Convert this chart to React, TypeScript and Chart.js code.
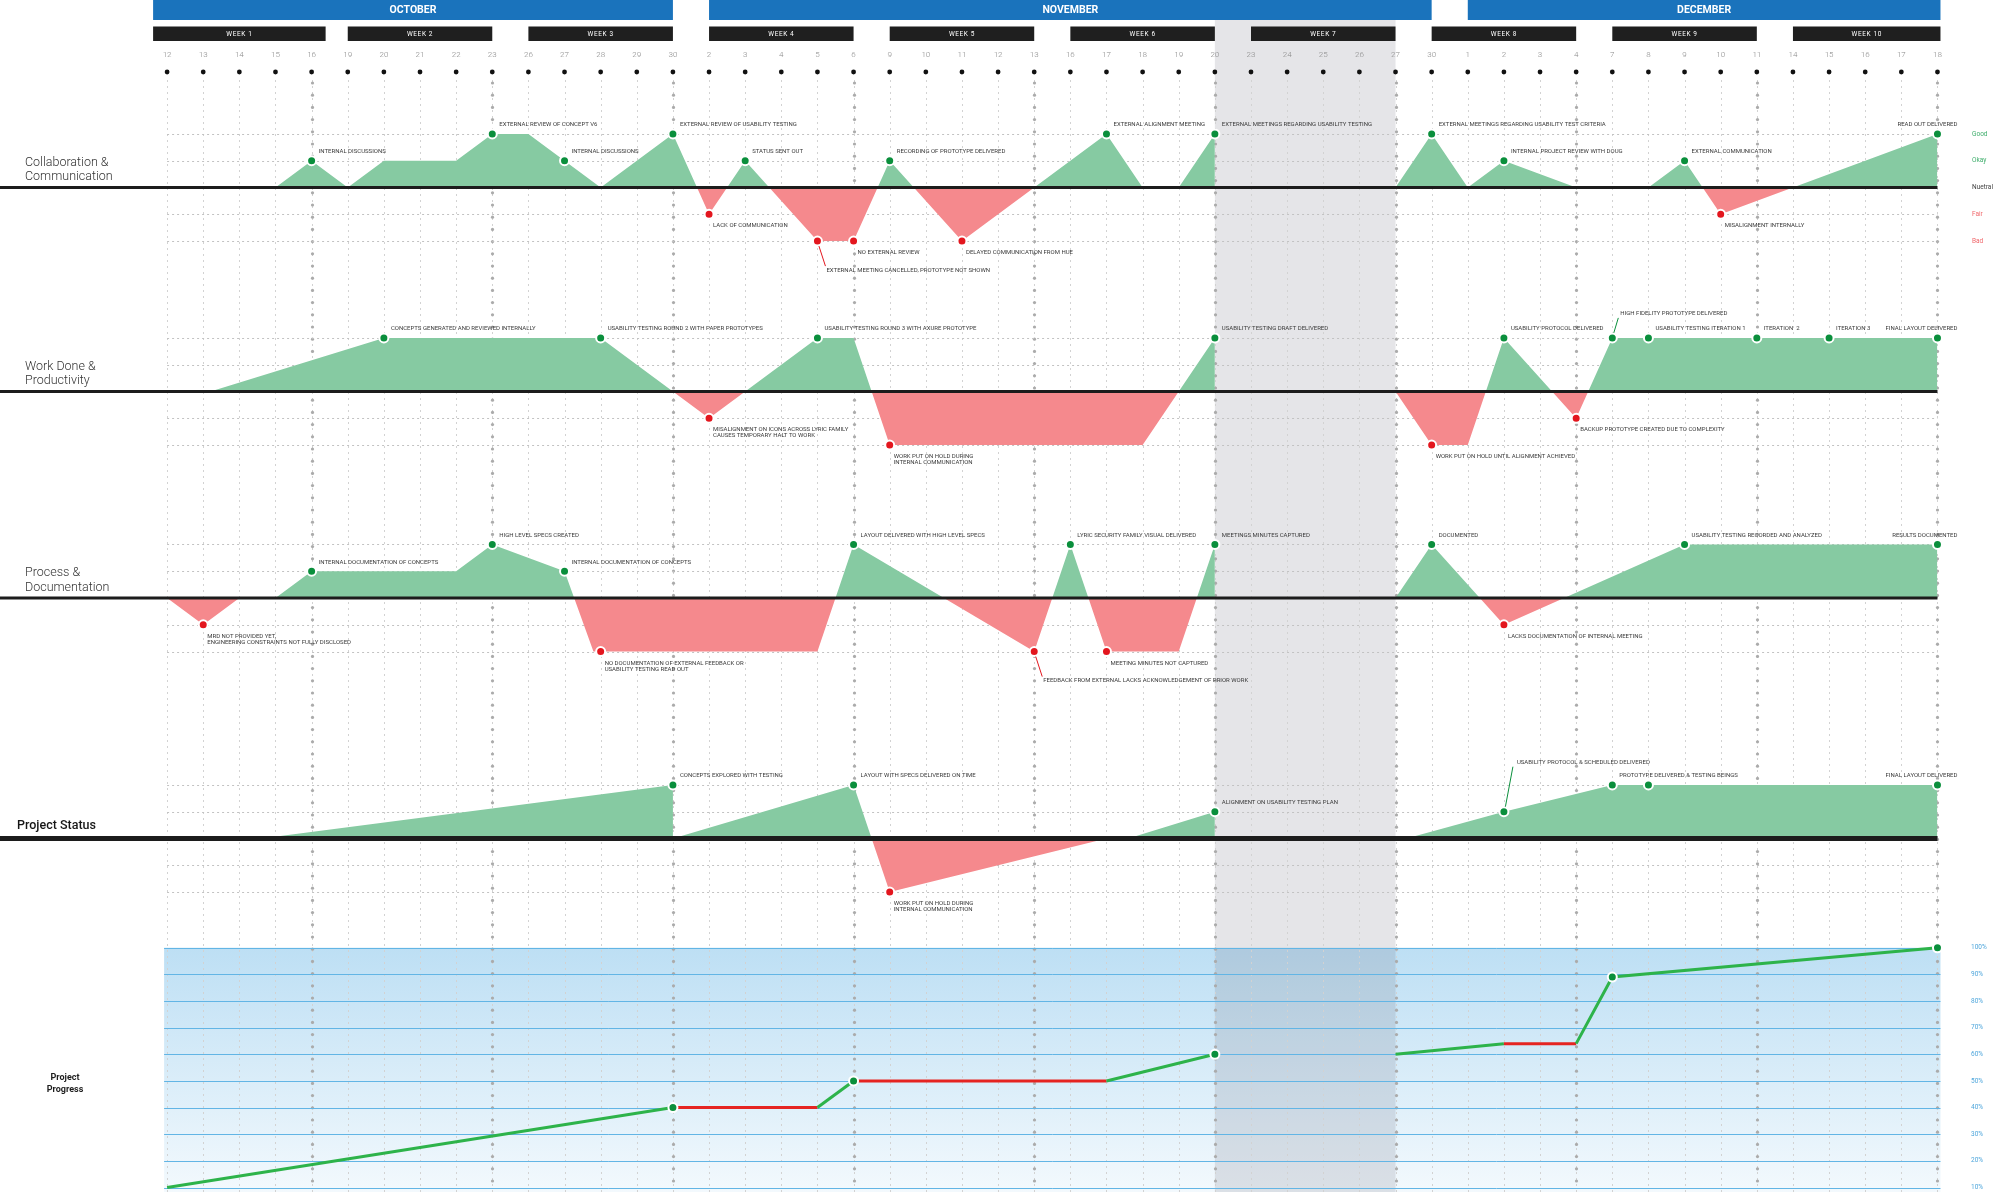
import React, { useEffect, useRef } from "react";
import { Chart, registerables } from "chart.js";

Chart.register(...registerables);

// ---------------- DATA ----------------
const dayLabels = [
  "12", "13", "14", "15", "16", "19", "20", "21", "22", "23", "26", "27", "28", "29", "30",
  "2", "3", "4", "5", "6", "9", "10", "11", "12", "13", "16", "17", "18", "19", "20",
  "23", "24", "25", "26", "27", "30", "1", "2", "3", "4", "7", "8", "9", "10", "11",
  "14", "15", "16", "17", "18",
];
const monthNames = ["OCTOBER", "NOVEMBER", "DECEMBER"];
const monthStartDay = [0, 15, 36];
const monthEndDay = [14, 35, 49];
const weekNames = ["WEEK 1", "WEEK 2", "WEEK 3", "WEEK 4", "WEEK 5", "WEEK 6", "WEEK 7", "WEEK 8", "WEEK 9", "WEEK 10"];
const weekStartDay = [0, 5, 10, 15, 20, 25, 30, 35, 40, 45];
const weekEndDay = [4, 9, 14, 19, 24, 29, 34, 39, 44, 49];
const offWeekFromDay = 29;
const offWeekToDay = 34;

const levelNames = ["Good", "Okay", "Nuetral", "Fair", "Bad"];
const levelValues = [2, 1, 0, -1, -2];

const rowTitles = [
  ["Collaboration &", "Communication"],
  ["Work Done &", "Productivity"],
  ["Process &", "Documentation"],
  ["Project Status"],
];

// Collaboration & Communication
const collabX = [0, 3, 4, 5, 6, 8, 9, 10, 11, 12, 14, 15, 16, 18, 19, 20, 22, 24, 26, 27, 28, 29, 31.5, 34, 35, 36, 37, 39, 41, 42, 43, 49];
const collabY = [0, 0, 1, 0, 1, 1, 2, 2, 1, 0, 2, -1, 1, -2, -2, 1, -2, 0, 2, 0, 0, 2, null, 0, 2, 0, 1, 0, 0, 1, -1, 2];
const collabEventX = [4, 9, 11, 14, 15, 16, 18, 19, 20, 22, 26, 29, 35, 37, 42, 43, 49];
const collabEventY = [1, 2, 1, 2, -1, 1, -2, -2, 1, -2, 2, 2, 2, 1, 1, -1, 2];
const collabEventText = [
  "INTERNAL DISCUSSIONS",
  "EXTERNAL REVIEW OF CONCEPT V6",
  "INTERNAL DISCUSSIONS",
  "EXTERNAL REVIEW OF USABILITY TESTING",
  "LACK OF COMMUNICATION",
  "STATUS SENT OUT",
  "EXTERNAL MEETING CANCELLED, PROTOTYPE NOT SHOWN",
  "NO EXTERNAL REVIEW",
  "RECORDING OF PROTOTYPE DELIVERED",
  "DELAYED COMMUNICATION FROM HUE",
  "EXTERNAL ALIGNMENT MEETING",
  "EXTERNAL MEETINGS REGARDING USABILITY TESTING",
  "EXTERNAL MEETINGS REGARDING USABILITY TEST CRITERIA",
  "INTERNAL PROJECT REVIEW WITH DOUG",
  "EXTERNAL COMMUNICATION",
  "MISALIGNMENT INTERNALLY",
  "READ OUT DELIVERED",
];
const collabEventPlace = ["auto", "auto", "auto", "auto", "auto", "auto", "leaderDown", "auto", "auto", "auto", "auto", "auto", "auto", "auto", "auto", "auto", "end"];

// Work Done & Productivity
const workX = [1.2, 6, 12, 15, 18, 19, 20, 27, 29, 31.5, 34, 35, 36, 37, 39, 40, 49];
const workY = [0, 2, 2, -1, 2, 2, -2, -2, 2, null, 0, -2, -2, 2, -1, 2, 2];
const workEventX = [6, 12, 15, 18, 20, 29, 35, 37, 39, 40, 41, 44, 46, 49];
const workEventY = [2, 2, -1, 2, -2, 2, -2, 2, -1, 2, 2, 2, 2, 2];
const workEventText = [
  "CONCEPTS GENERATED AND REVIEWED INTERNALLY",
  "USABILITY TESTING ROUND 2 WITH PAPER PROTOTYPES",
  "MISALIGNMENT ON ICONS ACROSS LYRIC FAMILY\nCAUSES TEMPORARY HALT TO WORK",
  "USABILITY TESTING ROUND 3 WITH AXURE PROTOTYPE",
  "WORK PUT ON HOLD DURING\nINTERNAL COMMUNICATION",
  "USABILITY TESTING DRAFT DELIVERED",
  "WORK PUT ON HOLD UNTIL ALIGNMENT ACHIEVED",
  "USABILITY PROTOCOL DELIVERED",
  "BACKUP PROTOTYPE CREATED DUE TO COMPLEXITY",
  "HIGH FIDELITY PROTOTYPE DELIVERED",
  "USABILITY TESTING ITERATION 1",
  "ITERATION  2",
  "ITERATION 3",
  "FINAL LAYOUT DELIVERED",
];
const workEventPlace = ["auto", "auto", "auto", "auto", "auto", "auto", "auto", "auto", "auto", "leaderUp", "auto", "auto", "auto", "end"];

// Process & Documentation
const processX = [0, 1, 2, 3, 4, 8, 9, 11, 11.8, 12, 18, 19, 24, 25, 26, 28, 29, 31.5, 34, 35, 37, 42, 49];
const processY = [0, -1, 0, 0, 1, 1, 2, 1, -2, -2, -2, 2, -2, 2, -2, -2, 2, null, 0, 2, -1, 2, 2];
const processEventX = [1, 4, 9, 11, 12, 19, 24, 25, 26, 29, 35, 37, 42, 49];
const processEventY = [-1, 1, 2, 1, -2, 2, -2, 2, -2, 2, 2, -1, 2, 2];
const processEventText = [
  "MRD NOT PROVIDED YET,\nENGINEERING CONSTRAINTS NOT FULLY DISCLOSED",
  "INTERNAL DOCUMENTATION OF CONCEPTS",
  "HIGH LEVEL SPECS CREATED",
  "INTERNAL DOCUMENTATION OF CONCEPTS",
  "NO DOCUMENTATION OF EXTERNAL FEEDBACK OR\nUSABILITY TESTING READ OUT",
  "LAYOUT DELIVERED WITH HIGH LEVEL SPECS",
  "FEEDBACK FROM EXTERNAL LACKS ACKNOWLEDGEMENT OF PRIOR WORK",
  "LYRIC SECURITY FAMILY VISUAL DELIVERED",
  "MEETING MINUTES NOT CAPTURED",
  "MEETINGS MINUTES CAPTURED",
  "DOCUMENTED",
  "LACKS DOCUMENTATION OF INTERNAL MEETING",
  "USABILITY TESTING RECORDED AND ANALYZED",
  "RESULTS DOCUMENTED",
];
const processEventPlace = ["auto", "auto", "auto", "auto", "auto", "auto", "leaderDown", "auto", "auto", "auto", "auto", "auto", "auto", "end"];

// Project Status
const statusX = [2.6, 14, 14, 19, 20, 26, 26.6, 29, 31.5, 34.3, 37, 40, 41, 49];
const statusY = [0, 2, 0, 2, -2, 0, 0, 1, null, 0, 1, 2, 2, 2];
const statusEventX = [14, 19, 20, 29, 37, 40, 41, 49];
const statusEventY = [2, 2, -2, 1, 1, 2, 2, 2];
const statusEventText = [
  "CONCEPTS EXPLORED WITH TESTING",
  "LAYOUT WITH SPECS DELIVERED ON TIME",
  "WORK PUT ON HOLD DURING\nINTERNAL COMMUNICATION",
  "ALIGNMENT ON USABILITY TESTING PLAN",
  "USABILITY PROTOCOL & SCHEDULED DELIVERED",
  "PROTOTYPE DELIVERED & TESTING BEINGS",
  "",
  "FINAL LAYOUT DELIVERED",
];
const statusEventPlace = ["auto", "auto", "auto", "auto", "leaderUpLong", "auto", "auto", "end"];

// Project Progress (%)
const progressX = [0, 14, 18, 19, 26, 29, 31.5, 34, 37, 39, 40, 49];
const progressY = [10, 40, 40, 50, 50, 60, null, 60, 64, 64, 89, 100];
const progressDotX = [14, 19, 29, 40, 49];
const progressDotY = [40, 50, 60, 89, 100];
const progressTicks = [100, 90, 80, 70, 60, 50, 40, 30, 20, 10];

// ---------------- LAYOUT / STYLE ----------------
const W = 2000;
const H = 1192;
const FIRST_DAY_PX = 167.1;
const DAY_PX = 36.13;
const ROW_BASE_PX = [187.5, 391.5, 598, 838.5];
const LEVEL_PX = 26.8;
const P10_PX = 1187.5;
const PCT_PX = 2.664;

const GREEN_FILL = "#86caa2";
const RED_FILL = "#f5898d";
const GREEN_DOT = "#0a8f3c";
const RED_DOT = "#e3161e";
const LINE_GREEN = "#2db34a";
const LINE_RED = "#e52421";
const FONT = "Roboto, 'Open Sans', sans-serif";

const rows = [
  { x: collabX, y: collabY, ex: collabEventX, ey: collabEventY, et: collabEventText, ep: collabEventPlace },
  { x: workX, y: workY, ex: workEventX, ey: workEventY, et: workEventText, ep: workEventPlace },
  { x: processX, y: processY, ex: processEventX, ey: processEventY, et: processEventText, ep: processEventPlace },
  { x: statusX, y: statusY, ex: statusEventX, ey: statusEventY, et: statusEventText, ep: statusEventPlace },
];

function buildDatasets(): any[] {
  const ds: any[] = [];
  rows.forEach((r, ri) => {
    ds.push({
      type: "line",
      data: r.x.map((x, k) => ({ x, y: r.y[k] })),
      xAxisID: "x",
      yAxisID: "y" + ri,
      borderWidth: 0,
      borderColor: "rgba(0,0,0,0)",
      pointRadius: 0,
      tension: 0,
      spanGaps: false,
      fill: { target: "origin", above: GREEN_FILL, below: RED_FILL },
      order: 5,
    });
  });
  ds.push({
    type: "line",
    data: progressX.map((x, k) => ({ x, y: progressY[k] })),
    xAxisID: "x",
    yAxisID: "yp",
    borderWidth: 3,
    pointRadius: 0,
    tension: 0,
    spanGaps: false,
    fill: false,
    segment: {
      borderColor: (c: any) => (c.p0.parsed.y === c.p1.parsed.y ? LINE_RED : LINE_GREEN),
    },
    borderColor: LINE_GREEN,
    order: 3,
  });
  rows.forEach((r, ri) => {
    ds.push({
      type: "line",
      showLine: false,
      data: r.ex.map((x, k) => ({ x, y: r.ey[k] })),
      xAxisID: "x",
      yAxisID: "y" + ri,
      pointRadius: 4.5,
      pointBorderWidth: 2,
      pointBorderColor: "#ffffff",
      pointBackgroundColor: (c: any) => (c.raw && c.raw.y < 0 ? RED_DOT : GREEN_DOT),
      eventTexts: r.et,
      eventPlaces: r.ep,
      order: 0,
    });
  });
  ds.push({
    type: "line",
    showLine: false,
    data: progressDotX.map((x, k) => ({ x, y: progressDotY[k] })),
    xAxisID: "x",
    yAxisID: "yp",
    pointRadius: 4.5,
    pointBorderWidth: 2,
    pointBorderColor: "#ffffff",
    pointBackgroundColor: GREEN_DOT,
    order: 0,
  });
  return ds;
}

function buildScales(): any {
  const s: any = {
    x: { type: "linear", display: false, min: -FIRST_DAY_PX / DAY_PX, max: (W - FIRST_DAY_PX) / DAY_PX },
  };
  ROW_BASE_PX.forEach((b, ri) => {
    s["y" + ri] = { type: "linear", display: false, min: -(H - b) / LEVEL_PX, max: b / LEVEL_PX };
  });
  s.yp = { type: "linear", display: false, min: 10 - (H - P10_PX) / PCT_PX, max: 10 + P10_PX / PCT_PX };
  return s;
}

const backgroundPlugin = {
  id: "timelineBackground",
  beforeDatasetsDraw(chart: any) {
    const ctx: CanvasRenderingContext2D = chart.ctx;
    const xs = chart.scales.x;
    const yp = chart.scales.yp;
    const X = (v: number) => xs.getPixelForValue(v);
    ctx.save();
    // progress background
    const pl = X(0) - 3;
    const pr = X(dayLabels.length - 1) + 3;
    const pTop = yp.getPixelForValue(100);
    const g = ctx.createLinearGradient(0, pTop, 0, H);
    g.addColorStop(0, "#bddff4");
    g.addColorStop(1, "#f3f9fd");
    ctx.fillStyle = g;
    ctx.fillRect(pl, pTop, pr - pl, H - pTop);
    // off week shading
    const sl = X(offWeekFromDay);
    const sr = X(offWeekToDay);
    ctx.fillStyle = "rgba(110,110,125,0.18)";
    ctx.fillRect(sl, 20, sr - sl, H - 20);
    // vertical grid
    dayLabels.forEach((_, i) => {
      const x = Math.round(X(i)) + 0.5;
      ctx.strokeStyle = "#d2d2d2";
      ctx.lineWidth = 1;
      ctx.setLineDash([2, 4]);
      ctx.beginPath();
      ctx.moveTo(x, 80);
      ctx.lineTo(x, H);
      ctx.stroke();
      if (weekEndDay.includes(i)) {
        ctx.fillStyle = "#ababab";
        for (let y = 83; y < H; y += 12.2) {
          ctx.beginPath();
          ctx.arc(x, y, 1.6, 0, Math.PI * 2);
          ctx.fill();
        }
      }
    });
    // horizontal level lines
    ctx.strokeStyle = "#c2c2c2";
    ctx.setLineDash([2, 3]);
    ROW_BASE_PX.forEach((_, ri) => {
      const ys = chart.scales["y" + ri];
      levelValues.forEach((lv) => {
        if (lv === 0) return;
        const y = Math.round(ys.getPixelForValue(lv)) + 0.5;
        ctx.beginPath();
        ctx.moveTo(X(0), y);
        ctx.lineTo(X(dayLabels.length - 1), y);
        ctx.stroke();
      });
    });
    ctx.setLineDash([]);
    // progress lines
    ctx.strokeStyle = "#62b5e5";
    progressTicks.forEach((v) => {
      const y = Math.round(yp.getPixelForValue(v)) + 0.5;
      ctx.beginPath();
      ctx.moveTo(pl, y);
      ctx.lineTo(pr, y);
      ctx.stroke();
    });
    // header: months
    monthNames.forEach((m, k) => {
      const l = X(monthStartDay[k]) - (k === 0 ? 14 : 0);
      const r = X(monthEndDay[k]) + (k === monthNames.length - 1 ? 3 : 0);
      ctx.fillStyle = "#1a73bc";
      ctx.fillRect(l, 0, r - l, 20);
      ctx.fillStyle = "#ffffff";
      ctx.font = `bold 10.5px ${FONT}`;
      ctx.textAlign = "center";
      ctx.textBaseline = "middle";
      ctx.fillText(m, (l + r) / 2, 10.5);
    });
    // header: weeks
    weekNames.forEach((w, k) => {
      const l = X(weekStartDay[k]) - (k === 0 ? 14 : 0);
      const r = X(weekEndDay[k]) + (k === 0 ? 14 : 0) + (k === weekNames.length - 1 ? 3 : 0);
      ctx.fillStyle = "#1f1f1f";
      ctx.fillRect(l, 26.5, r - l, 14.5);
      ctx.fillStyle = "#ffffff";
      ctx.font = `6.5px ${FONT}`;
      (ctx as any).letterSpacing = "0.6px";
      ctx.textAlign = "center";
      ctx.textBaseline = "middle";
      ctx.fillText(w, (l + r) / 2, 34);
      (ctx as any).letterSpacing = "0px";
    });
    // day labels & dots
    dayLabels.forEach((d, i) => {
      const x = X(i);
      ctx.fillStyle = "#8a8a8a";
      ctx.font = `300 8px ${FONT}`;
      ctx.textAlign = "center";
      ctx.textBaseline = "middle";
      ctx.fillText(d, x, 54.5);
      ctx.fillStyle = "#111111";
      ctx.beginPath();
      ctx.arc(x, 72, 2.4, 0, Math.PI * 2);
      ctx.fill();
    });
    ctx.restore();
  },
  afterDatasetsDraw(chart: any) {
    const ctx: CanvasRenderingContext2D = chart.ctx;
    const xs = chart.scales.x;
    const yp = chart.scales.yp;
    const X = (v: number) => xs.getPixelForValue(v);
    ctx.save();
    // baselines
    ROW_BASE_PX.forEach((_, ri) => {
      const y = chart.scales["y" + ri].getPixelForValue(0);
      const t = ri === ROW_BASE_PX.length - 1 ? 5 : 3;
      ctx.fillStyle = "#1c1c1c";
      ctx.fillRect(0, y - t / 2, X(dayLabels.length - 1), t);
    });
    // event labels
    chart.data.datasets.forEach((ds: any, di: number) => {
      if (!ds.eventTexts) return;
      const meta = chart.getDatasetMeta(di);
      meta.data.forEach((pt: any, k: number) => {
        const text: string = ds.eventTexts[k];
        if (!text) return;
        const place: string = ds.eventPlaces[k];
        const value = ds.data[k].y;
        const px = pt.x;
        const py = pt.y;
        let tx = px + 7;
        let ty = py - 9;
        let align: CanvasTextAlign = "left";
        const leader = (x2: number, y2: number, col: string) => {
          ctx.strokeStyle = col;
          ctx.lineWidth = 1;
          ctx.beginPath();
          ctx.moveTo(px + 1.5, py + (y2 > py ? 5 : -5));
          ctx.lineTo(x2, y2);
          ctx.stroke();
        };
        if (place === "end") {
          align = "right";
          tx = px + 20;
          ty = py - 9;
        } else if (place === "leaderDown") {
          leader(px + 8, py + 25, RED_DOT);
          tx = px + 9;
          ty = py + 29;
        } else if (place === "leaderUp") {
          leader(px + 6, py - 20, GREEN_DOT);
          tx = px + 8;
          ty = py - 24;
        } else if (place === "leaderUpLong") {
          leader(px + 9, py - 45, GREEN_DOT);
          tx = px + 13;
          ty = py - 49;
        } else if (value < 0) {
          tx = px + 4;
          ty = py + 11.5;
        }
        ctx.fillStyle = "#3a3a3a";
        ctx.font = `6px ${FONT}`;
        (ctx as any).letterSpacing = "0px";
        ctx.textAlign = align;
        ctx.textBaseline = "middle";
        text.split("\n").forEach((line, li) => ctx.fillText(line, tx, ty + li * 6));
      });
    });
    // row titles
    rowTitles.forEach((lines, ri) => {
      const base = chart.scales["y" + ri].getPixelForValue(0);
      ctx.textAlign = "left";
      ctx.textBaseline = "middle";
      if (lines.length === 1) {
        ctx.fillStyle = "#151515";
        ctx.font = `500 12.5px ${FONT}`;
        ctx.fillText(lines[0], 17, base - 12.5);
      } else {
        ctx.fillStyle = "#333333";
        ctx.font = `300 12.5px ${FONT}`;
        lines.forEach((l, k) => ctx.fillText(l, 25, base - 25 + k * 14.5));
      }
    });
    // legend (first row)
    const y0 = chart.scales.y0;
    const legendColors = ["#3fae6c", "#3fae6c", "#444444", "#f0686c", "#f0686c"];
    levelNames.forEach((n, k) => {
      ctx.fillStyle = legendColors[k];
      ctx.font = `6.5px ${FONT}`;
      ctx.textAlign = "left";
      ctx.textBaseline = "middle";
      ctx.fillText(n, 1972, y0.getPixelForValue(levelValues[k]));
    });
    // progress tick labels
    progressTicks.forEach((v) => {
      ctx.fillStyle = "#4ea6dc";
      ctx.font = `6.5px ${FONT}`;
      ctx.textAlign = "left";
      ctx.textBaseline = "middle";
      ctx.fillText(`${v}%`, 1971, yp.getPixelForValue(v));
    });
    // progress title
    ctx.fillStyle = "#1e1e1e";
    ctx.font = `bold 9px ${FONT}`;
    ctx.textAlign = "center";
    ctx.textBaseline = "middle";
    ctx.fillText("Project", 65, 1078);
    ctx.fillText("Progress", 65, 1090);
    ctx.restore();
  },
};

export default function App() {
  const ref = useRef<HTMLCanvasElement>(null);
  useEffect(() => {
    if (!ref.current) return;
    const chart = new Chart(ref.current, {
      type: "line",
      data: { datasets: buildDatasets() },
      options: {
        responsive: false,
        animation: false,
        devicePixelRatio: 1,
        events: [],
        layout: { padding: 0, autoPadding: false },
        scales: buildScales(),
        plugins: { legend: { display: false }, tooltip: { enabled: false }, title: { display: false } },
      } as any,
      plugins: [backgroundPlugin],
    } as any);
    return () => chart.destroy();
  }, []);
  return (
    <div style={{ position: "fixed", left: 0, top: 0, width: W, height: H, background: "#ffffff" }}>
      <canvas ref={ref} width={W} height={H} style={{ display: "block", width: W, height: H }} />
    </div>
  );
}
